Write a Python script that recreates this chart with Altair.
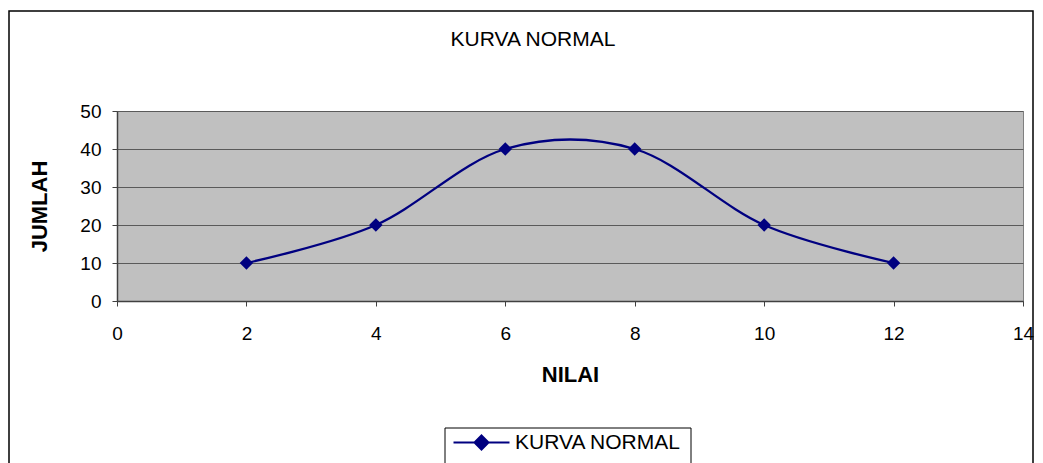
import altair as alt
import pandas as pd

# ---- data ----
nilai = [2, 4, 6, 8, 10, 12]
jumlah = [10, 20, 40, 40, 20, 10]
series_name = "KURVA NORMAL"
chart_title = "KURVA NORMAL"
x_title = "NILAI"
y_title = "JUMLAH"
x_ticks = [0, 2, 4, 6, 8, 10, 12, 14]
y_ticks = [0, 10, 20, 30, 40, 50]

df = pd.DataFrame({"NILAI": nilai, "JUMLAH": jumlah, "seri": [series_name] * len(nilai)})
one = pd.DataFrame({"k": [0]})

FONT = "Liberation Sans"
NAVY = "#000080"

x = alt.X(
    "NILAI:Q",
    scale=alt.Scale(domain=[0, 14], nice=False, zero=False),
    axis=alt.Axis(
        values=x_ticks, title=x_title, grid=False, format="d", labelFlush=False,
        labelFontSize=19, labelPadding=18, tickSize=5, titlePadding=21,
        titleFontSize=22, titleFontWeight="bold",
    ),
)
y = alt.Y(
    "JUMLAH:Q",
    scale=alt.Scale(domain=[0, 50], nice=False),
    axis=alt.Axis(
        values=y_ticks, title=y_title, grid=True, format="d", labelFlush=False,
        labelFontSize=19, labelPadding=11, tickSize=5, titlePadding=28,
        titleFontSize=22, titleFontWeight="bold",
    ),
)
color = alt.Color(
    "seri:N",
    scale=alt.Scale(range=[NAVY]),
    legend=alt.Legend(
        title=None, orient="none", legendX=333, legendY=321,
        symbolType="M-4,0L4,0M0,-1L1,0L0,1L-1,0Z", symbolSize=196,
        symbolStrokeColor=NAVY, symbolFillColor=NAVY, symbolStrokeWidth=2,
        symbolOffset=21, labelOffset=23, labelFontSize=21, labelFont=FONT,
        labelColor="#000", labelLimit=400, padding=0,
    ),
)

line = alt.Chart(df).mark_line(interpolate="cardinal", tension=0, strokeWidth=2.3).encode(x=x, y=y, color=color)
pts = alt.Chart(df).mark_point(shape="diamond", filled=True, size=180, opacity=1).encode(x=x, y=y, color=color)

frame = alt.Chart(one).mark_rect(fill=None, stroke="#000", strokeWidth=1.5).encode(
    x=alt.value(-108), x2=alt.value(916), y=alt.value(-100), y2=alt.value(370)
)
legend_box = alt.Chart(one).mark_rect(fill=None, stroke="#000", strokeWidth=1).encode(
    x=alt.value(328), x2=alt.value(574), y=alt.value(317), y2=alt.value(370)
)

chart = (
    alt.layer(frame, legend_box, line, pts)
    .properties(
        width=906,
        height=190,
        autosize=alt.AutoSizeParams(type="none"),
        padding={"left": 117, "top": 111, "right": 20, "bottom": 162},
        background="white",
        title=alt.Title(chart_title, anchor="middle", frame="group", dx=-37, offset=-40,
                        fontSize=21, fontWeight="normal", font=FONT, color="#000"),
    )
    .configure_view(fill="#C0C0C0", stroke="#808080", strokeWidth=1)
    .configure_axis(
        labelFont=FONT, titleFont=FONT, labelColor="#000", titleColor="#000",
        domainColor="#404040", domainWidth=1.5, tickColor="#404040", tickWidth=1,
        gridColor="#5a5a5a", gridWidth=1, gridOpacity=1,
    )
)

chart.save("out.html", embed_options={"renderer": "svg", "actions": False})
